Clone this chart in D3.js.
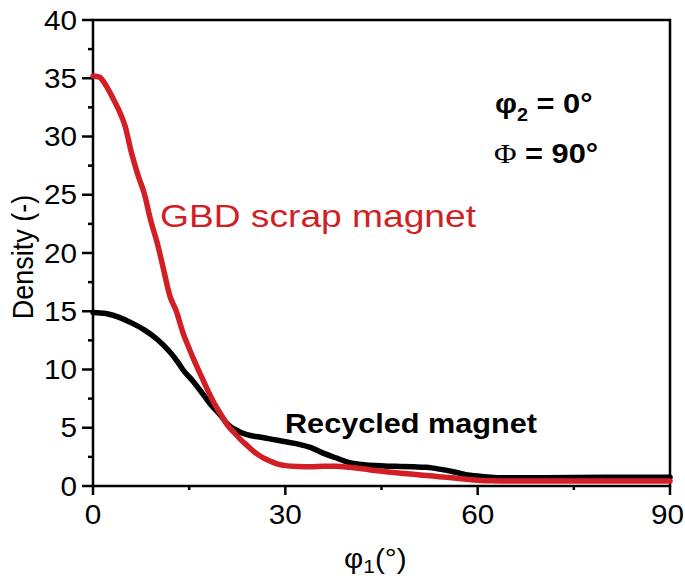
<!DOCTYPE html>
<html>
<head>
<meta charset="utf-8">
<script src="https://cdn.jsdelivr.net/npm/d3@7"></script>
<style>
  html, body { margin: 0; padding: 0; background: #fff; }
  svg text { font-family: "Liberation Sans", Arial, sans-serif; fill: #000; }
</style>
</head>
<body>
<svg id="chart" width="685" height="583"></svg>
<script>
// Orientation density along phi1 at phi2 = 0°, Phi = 90°
const gbdAngle = [0, 1, 2, 3, 4, 5, 6, 7, 8, 9, 10, 11, 12, 13, 14, 15, 16, 17, 18, 19, 20,
  21, 22, 23, 24, 25, 26, 27, 28, 29, 30, 32, 34, 36, 38, 40, 42, 44, 46, 48, 50,
  52, 54, 56, 58, 60, 62, 64, 70, 80, 90];
const gbdDensity = [35.2, 35.1, 34.4, 33.4, 32.3, 30.9, 28.6, 26.7, 25.1, 22.8, 20.9,
  18.6, 16.3, 15.0, 13.2, 11.8, 10.5, 9.3, 8.1, 7.0, 6.1,
  5.2, 4.6, 4.0, 3.5, 3.0, 2.6, 2.3, 2.05, 1.85, 1.75, 1.68, 1.66, 1.7, 1.7, 1.6, 1.48,
  1.33, 1.2, 1.1, 1.0, 0.9, 0.8, 0.7, 0.6, 0.5, 0.45, 0.42, 0.42, 0.42, 0.42];

const recAngle = [0, 2, 4, 6, 8, 10, 12, 13.4, 14, 15.6, 17, 18.2, 20, 21, 22, 24, 26, 28,
  30, 32, 34, 36, 38, 40, 42, 44, 46, 48, 50, 52, 54, 56, 58, 60, 62, 64, 70, 80, 90];
const recDensity = [14.9, 14.8, 14.5, 14.0, 13.4, 12.6, 11.5, 10.5, 10.0, 9.0, 8.0, 7.1,
  6.0, 5.3, 4.9, 4.4, 4.2, 4.0, 3.8, 3.6, 3.3, 2.8, 2.4, 2.0, 1.85, 1.75, 1.7, 1.68,
  1.65, 1.6, 1.45, 1.25, 1.0, 0.85, 0.75, 0.7, 0.7, 0.75, 0.75];

const xTicks = [0, 30, 60, 90];
const xMinor = [15, 45, 75];
const yTicks = [0, 5, 10, 15, 20, 25, 30, 35, 40];
const yMinor = [2.5, 7.5, 12.5, 17.5, 22.5, 27.5, 32.5, 37.5];

const RED = "#d11f25";
const plotL = 93, plotR = 670, plotT = 20, plotB = 486;
const W = 685;
const sx = 1.1; // horizontal text stretch

const svg = d3.select("#chart");
const x = d3.scaleLinear().domain([0, 90]).range([plotL, plotR]);
const y = d3.scaleLinear().domain([0, 40]).range([plotB, plotT]);

// frame
svg.append("rect")
  .attr("x", plotL).attr("y", plotT)
  .attr("width", plotR - plotL).attr("height", plotB - plotT)
  .attr("fill", "none").attr("stroke", "#000").attr("stroke-width", 2.5);

// y axis ticks
const yAxis = svg.append("g");
yAxis.selectAll("line.major").data(yTicks).join("line").attr("class", "major")
  .attr("x1", plotL - 11).attr("x2", plotL)
  .attr("y1", d => y(d)).attr("y2", d => y(d))
  .attr("stroke", "#000").attr("stroke-width", 2.5);
yAxis.selectAll("line.minor").data(yMinor).join("line").attr("class", "minor")
  .attr("x1", plotL - 5).attr("x2", plotL)
  .attr("y1", d => y(d)).attr("y2", d => y(d))
  .attr("stroke", "#000").attr("stroke-width", 2.5);
yAxis.selectAll("text").data(yTicks).join("text")
  .attr("transform", d => `translate(77,${y(d) + 9.5}) scale(${sx},1)`)
  .attr("text-anchor", "end")
  .attr("font-size", 27)
  .text(d => d);

// x axis ticks
const xAxis = svg.append("g");
xAxis.selectAll("line.major").data(xTicks).join("line").attr("class", "major")
  .attr("x1", d => x(d)).attr("x2", d => x(d))
  .attr("y1", plotB).attr("y2", plotB + 9)
  .attr("stroke", "#000").attr("stroke-width", 2.5);
xAxis.selectAll("line.minor").data(xMinor).join("line").attr("class", "minor")
  .attr("x1", d => x(d)).attr("x2", d => x(d))
  .attr("y1", plotB).attr("y2", plotB + 4)
  .attr("stroke", "#000").attr("stroke-width", 2.5);
xAxis.selectAll("text").data(xTicks).join("text")
  .attr("font-size", 27)
  .attr("text-anchor", "middle")
  .text(d => d)
  .attr("transform", function (d) {
    // keep the last label inside the page edge
    const half = this.getComputedTextLength() * sx / 2;
    const cx = Math.min(x(d), W - 1 - half);
    return `translate(${cx},524) scale(${sx},1)`;
  });

// axis titles
svg.append("text")
  .attr("transform", `translate(33,257) scale(${sx},1) rotate(-90)`)
  .attr("text-anchor", "middle")
  .attr("font-size", 27)
  .text("Density (-)");

const xt = svg.append("text")
  .attr("transform", `translate(344,568) scale(${sx},1)`)
  .attr("font-size", 27);
xt.append("tspan").text("φ");
xt.append("tspan").attr("font-size", 19).attr("dy", 5).text("1");
xt.append("tspan").attr("dy", -5).text("(°)");

// curves
const line = d3.line()
  .x(d => x(d[0])).y(d => y(d[1]))
  .curve(d3.curveMonotoneX);

svg.append("path")
  .datum(d3.zip(recAngle, recDensity))
  .attr("d", line)
  .attr("fill", "none").attr("stroke", "#000")
  .attr("stroke-width", 5.5).attr("stroke-linejoin", "round").attr("stroke-linecap", "round");

svg.append("path")
  .datum(d3.zip(gbdAngle, gbdDensity))
  .attr("d", line)
  .attr("fill", "none").attr("stroke", RED)
  .attr("stroke-width", 5.5).attr("stroke-linejoin", "round").attr("stroke-linecap", "round");

// series labels
svg.append("text")
  .attr("x", 160).attr("y", 227)
  .attr("font-size", 32)
  .attr("textLength", 316).attr("lengthAdjust", "spacingAndGlyphs")
  .style("fill", RED)
  .text("GBD scrap magnet");

svg.append("text")
  .attr("x", 285).attr("y", 433)
  .attr("font-size", 28).attr("font-weight", "bold")
  .attr("textLength", 252).attr("lengthAdjust", "spacingAndGlyphs")
  .text("Recycled magnet");

// section annotation
const a1 = svg.append("text")
  .attr("transform", `translate(495,113) scale(${sx},1)`)
  .attr("font-size", 28).attr("font-weight", "bold");
a1.append("tspan").text("φ");
a1.append("tspan").attr("font-size", 18).attr("dy", 8).text("2");
a1.append("tspan").attr("dy", -8).text(" = 0°");

const a2 = svg.append("text")
  .attr("transform", `translate(494,163) scale(${sx},1)`)
  .attr("font-size", 28);
a2.append("tspan").style("font-family", "'Liberation Serif', 'Times New Roman', serif").text("Φ");
a2.append("tspan").attr("font-weight", "bold").text(" = 90°");
</script>
</body>
</html>
